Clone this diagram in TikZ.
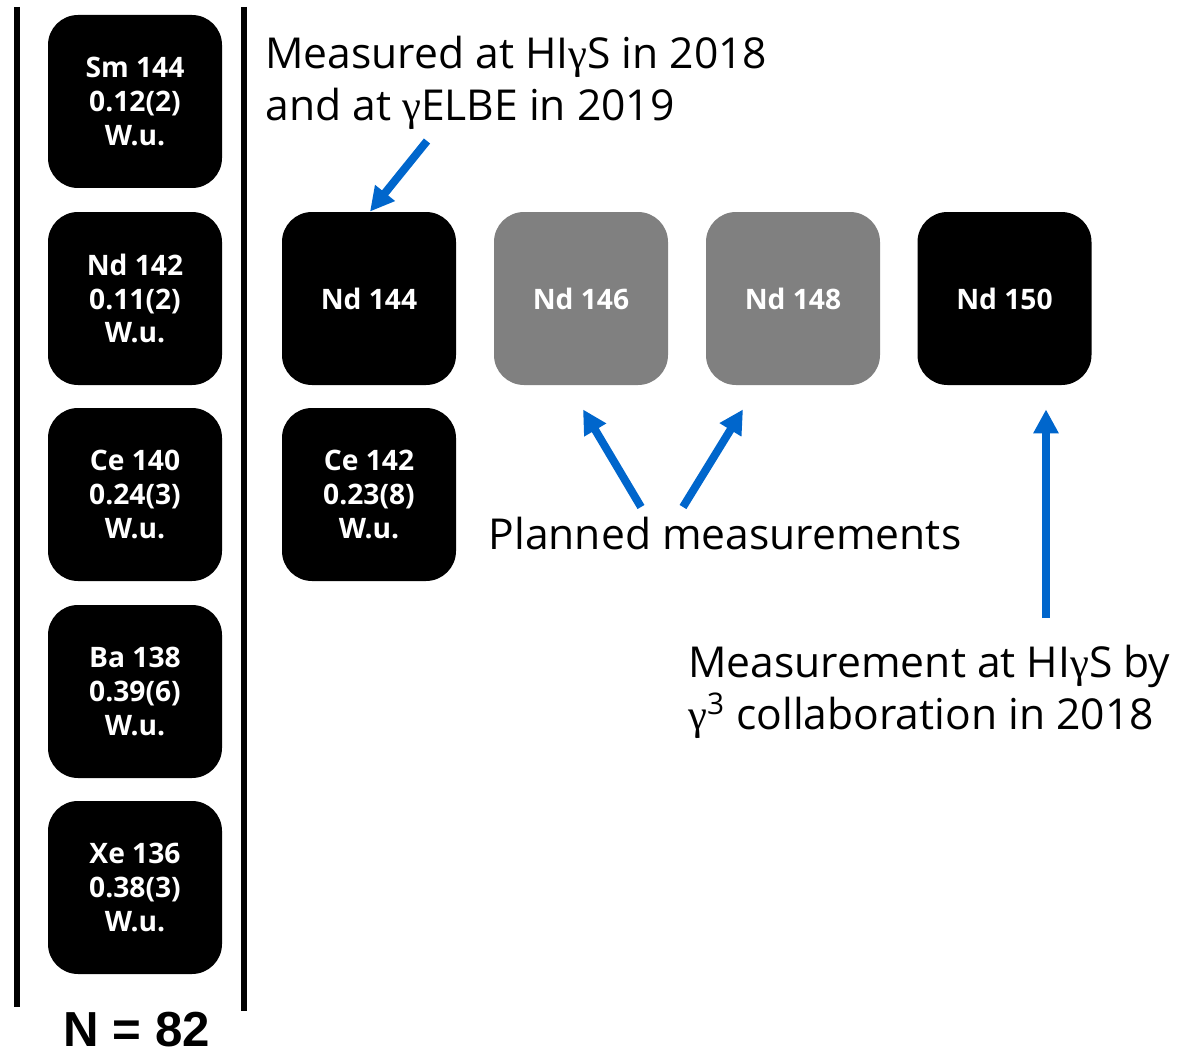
\documentclass[tikz,border=0pt]{standalone}
\usepackage{fontspec}
\setmainfont{Open Sans}
\newfontfamily\gfont{Liberation Serif}
\newfontfamily\nfont{Liberation Sans}
\usepackage{xcolor}
\usetikzlibrary{arrows.meta}
\definecolor{noteblue}{RGB}{0,102,204}
\newcommand{\Gm}{{\gfont γ}}

\begin{document}
\begin{tikzpicture}[x=0.5pt, y=-0.5pt,
  iso/.style={rounded corners=15pt, minimum width=87pt, minimum height=86.5pt,
    inner sep=0pt, align=center, text=white,
    font=\bfseries\fontsize{14.1}{16.8}\selectfont},
  done/.style={iso, fill=black},
  todo/.style={iso, fill=black!50},
  note/.style={font=\fontsize{21.3}{26}\selectfont, align=left, inner sep=0pt},
  pointer/.style={draw=noteblue, line width=4pt, -{Triangle[length=12pt, width=12pt]}},
  shell/.style={line width=3.2pt}]
  \useasboundingbox (0,0) rectangle (1184,1054);

  % shell closure N = 82
  \draw[shell] (17,7) -- (17,1007);
  \draw[shell] (244,7) -- (244,1011);
  \node[inner sep=0pt](n82) at (137,1030) {\nfont\bfseries\fontsize{24.6}{26}\selectfont N = 82};

  \node[done](sm144) at (135,101.5) {Sm 144\\0.12(2)\\W.u.};
  \node[done](nd142) at (135,298.5) {Nd 142\\0.11(2)\\W.u.};
  \node[done](ce140) at (135,494.5) {Ce 140\\0.24(3)\\W.u.};
  \node[done](ba138) at (135,691.5) {Ba 138\\0.39(6)\\W.u.};
  \node[done](xe136) at (135,887.5) {Xe 136\\0.38(3)\\W.u.};

  % open shell
  \node[done](nd144) at (369,298.5) {Nd 144};
  \node[todo](nd146) at (581,298.5) {Nd 146};
  \node[todo](nd148) at (793,298.5) {Nd 148};
  \node[done](nd150) at (1004.5,298.5) {Nd 150};
  \node[done](ce142) at (369,494.5) {Ce 142\\0.23(8)\\W.u.};

  \node[note, anchor=west](elbe) at (265,83) {Measured at HI\Gm S in 2018\\and at \Gm ELBE in 2019};
  \node[note](planned) at (725,534) {Planned measurements};
  \node[note, anchor=west](higs) at (688,692) {Measurement at HI\Gm S by\\\Gm\textsuperscript{3} collaboration in 2018};

  \coordinate(elbe tail) at (427,141);
  \coordinate(plan left) at (641,507);
  \coordinate(plan right) at (683,507);
  \coordinate(higs tail) at (1046,618);
  \draw[pointer] (elbe tail) -- ([xshift=0.5pt]nd144.north);
  \draw[pointer] (plan left) -- ([shift={(2,24)}]nd146.south);
  \draw[pointer] (plan right) -- ([shift={(-50,24)}]nd148.south);
  \draw[pointer] (higs tail) -- ([shift={(41.5,24)}]nd150.south);
\end{tikzpicture}
\end{document}
